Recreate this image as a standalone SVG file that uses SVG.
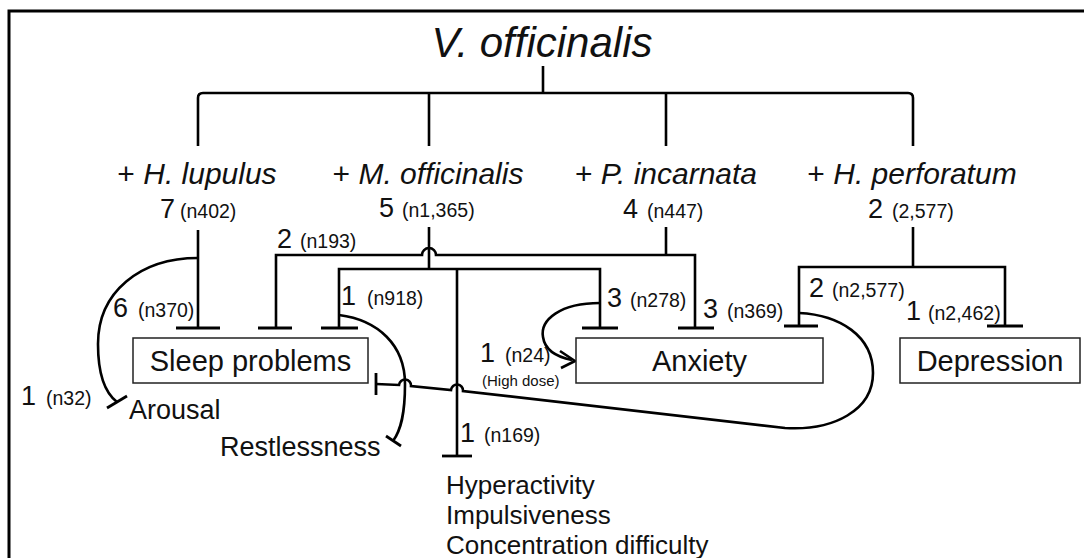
<svg xmlns="http://www.w3.org/2000/svg" width="1084" height="558" viewBox="0 0 1084 558">
<style>
text{font-family:"Liberation Sans",Arial,sans-serif;fill:#111}
.ttl{font-size:42px;font-style:italic}
.sp{font-size:30px}
.it{font-style:italic}
.big{font-size:27px}
.sm{font-size:19.5px}
.tiny{font-size:15px}
.bx{font-size:29px}
.lab{font-size:27px}
.lab2{font-size:26px}
.ln{fill:none;stroke:#000;stroke-width:2.6;stroke-linecap:butt}
.tee{stroke:#000;stroke-width:2.8}
.box{fill:#fff;stroke:#222;stroke-width:1.5}
.frame{stroke:#000;stroke-width:3;fill:none}
</style>
<rect width="1084" height="558" fill="#fff"/>
<path class="frame" d="M9,558 L9,11 L1084,11"/>

<g id="connectors">
  <!-- top tree -->
  <path class="ln" d="M543,66 L543,93"/>
  <path class="ln" d="M198,146 L198,98 Q198,93 203,93 L908,93 Q913,93 913,98 L913,146"/>
  <path class="ln" d="M429,93 L429,146"/>
  <path class="ln" d="M666,93 L666,146"/>
  <!-- H. lupulus -->
  <path class="ln" d="M198,230 L198,328"/>
  <line class="tee" x1="176" y1="328" x2="220" y2="328"/>
  <path class="ln" d="M198,258 C140,258 98,292 98,344 C98,374 104,392 117,402"/>
  <line class="tee" x1="107" y1="408" x2="127" y2="396"/>
  <!-- P. incarnata -->
  <path class="ln" d="M666,227 L666,255"/>
  <path class="ln" d="M276,328 L276,255 L422,255 A7,7 0 0 1 436,255 L695,255 L695,328"/>
  <line class="tee" x1="258" y1="328" x2="292" y2="328"/>
  <line class="tee" x1="678" y1="328" x2="714" y2="328"/>
  <!-- M. officinalis -->
  <path class="ln" d="M429,227 L429,269"/>
  <path class="ln" d="M339,328 L339,269 L600,269 L600,328"/>
  <path class="ln" d="M457,269 L457,456"/>
  <line class="tee" x1="442" y1="456" x2="472" y2="456"/>
  <line class="tee" x1="321" y1="328" x2="358" y2="328"/>
  <line class="tee" x1="582" y1="328" x2="618" y2="328"/>
  <path class="ln" d="M339,315 C378,320 405,345 405,384 C405,414 401,430 393,441"/>
  <line class="tee" x1="386" y1="436" x2="401" y2="446"/>
  <path class="ln" d="M600,303 C560,303 540,320 543,337 C545,351 557,357 572,360"/>
  <polyline class="ln" points="560,351 575,361 561,368"/>
  <!-- H. perforatum -->
  <path class="ln" d="M913,227 L913,267"/>
  <path class="ln" d="M799,326 L799,267 L1005,267 L1005,326"/>
  <line class="tee" x1="784" y1="326" x2="818" y2="326"/>
  <line class="tee" x1="987" y1="326" x2="1023" y2="326"/>
  <path class="ln" d="M376,384 L399,385 A6,6 0 0 1 411,386 L451,390 A6,6 0 0 1 463,391 L785,428 C834,431 873,410 873,373 C873,336 840,315 799,313"/>
  <line class="tee" x1="376" y1="373" x2="376" y2="395"/>
</g>

<g id="labels">
  <text class="big" x="160" y="218">7</text><text class="sm" x="180" y="218">(n402)</text>
  <text class="big" x="379" y="217">5</text><text class="sm" x="402" y="217">(n1,365)</text>
  <text class="big" x="623" y="218">4</text><text class="sm" x="647" y="218">(n447)</text>
  <text class="big" x="868" y="218">2</text><text class="sm" x="892" y="218">(2,577)</text>
  <text class="big" x="277" y="248">2</text><text class="sm" x="300" y="248">(n193)</text>
  <text class="big" x="113" y="317">6</text><text class="sm" x="138" y="317">(n370)</text>
  <text class="big" x="341" y="305">1</text><text class="sm" x="367" y="305">(n918)</text>
  <text class="big" x="607" y="307">3</text><text class="sm" x="630" y="307">(n278)</text>
  <text class="big" x="703" y="318">3</text><text class="sm" x="727" y="318">(n369)</text>
  <text class="big" x="809" y="297">2</text><text class="sm" x="832" y="297">(n2,577)</text>
  <text class="big" x="906" y="320">1</text><text class="sm" x="928" y="320">(n2,462)</text>
  <text class="big" x="21" y="405">1</text><text class="sm" x="46" y="405">(n32)</text>
  <text class="big" x="480" y="362">1</text><text class="sm" x="505" y="362">(n24)</text>
  <text class="tiny" x="482" y="386">(High dose)</text>
  <text class="big" x="460" y="442">1</text><text class="sm" x="484" y="442">(n169)</text>
</g>

<g id="node-title"><text class="ttl" x="542" y="57" text-anchor="middle">V. officinalis</text></g>
<g id="node-hlupulus"><text class="sp" x="197" y="184" text-anchor="middle">+ <tspan class="it">H. lupulus</tspan></text></g>
<g id="node-mofficinalis"><text class="sp" x="428" y="184" text-anchor="middle">+ <tspan class="it">M. officinalis</tspan></text></g>
<g id="node-pincarnata"><text class="sp" x="666" y="184" text-anchor="middle">+ <tspan class="it">P. incarnata</tspan></text></g>
<g id="node-hperforatum"><text class="sp" x="912" y="184" text-anchor="middle">+ <tspan class="it">H. perforatum</tspan></text></g>

<g id="node-sleep"><rect class="box" x="133" y="338" width="235" height="45"/><text class="bx" x="250.5" y="371" text-anchor="middle">Sleep problems</text></g>
<g id="node-anxiety"><rect class="box" x="576" y="338" width="247" height="45"/><text class="bx" x="699.5" y="371" text-anchor="middle">Anxiety</text></g>
<g id="node-depression"><rect class="box" x="900" y="338" width="180" height="45"/><text class="bx" x="990" y="371" text-anchor="middle">Depression</text></g>

<g id="node-arousal"><text class="lab" x="129" y="419">Arousal</text></g>
<g id="node-restlessness"><text class="lab" x="220" y="456">Restlessness</text></g>
<g id="node-hyperactivity">
  <text class="lab2" x="446" y="494">Hyperactivity</text>
  <text class="lab2" x="446" y="524">Impulsiveness</text>
  <text class="lab2" x="446" y="554">Concentration difficulty</text>
</g>
</svg>
